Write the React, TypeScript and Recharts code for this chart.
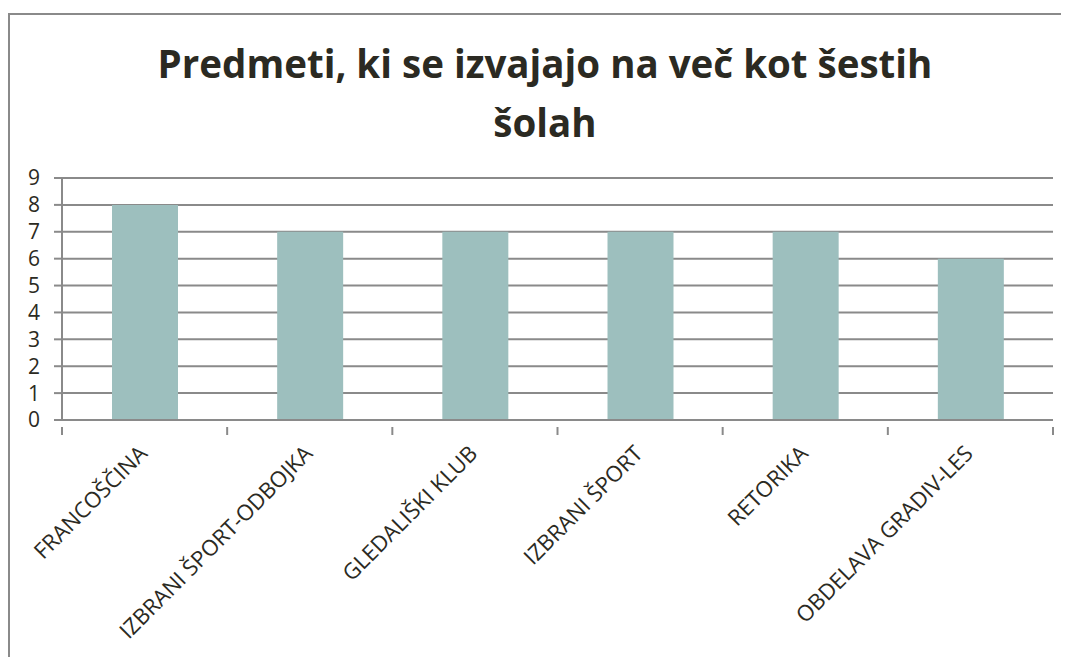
import React from "react";
import { BarChart, Bar, XAxis, YAxis, CartesianGrid } from "recharts";

const categories = [
  "FRANCOŠČINA",
  "IZBRANI ŠPORT-ODBOJKA",
  "GLEDALIŠKI KLUB",
  "IZBRANI ŠPORT",
  "RETORIKA",
  "OBDELAVA GRADIV-LES",
];
const values = [8, 7, 7, 7, 7, 6];
const yTicks = [0, 1, 2, 3, 4, 5, 6, 7, 8, 9];
const titleLines = ["Predmeti, ki se izvajajo na več kot šestih", "šolah"];

const data = categories.map((name, i) => ({ name, value: values[i] }));

const W = 1061;
const H = 644;
const M = { top: 165, right: 16, left: 14, bottom: 0 };
const X_H = H - 407;
const Y_W = 40;
const plotW = W - M.left - Y_W - M.right;
const band = plotW / categories.length;
const textColor = "#2b2a22";
const lineColor = "#8a8a8a";
const font = "'Open Sans', sans-serif";

const XTick = (props: any) => {
  const { x, y, payload, index } = props;
  const left = x - band / 2;
  const right = x + band / 2;
  const ax = x + 4;
  const ay = y + 27;
  return (
    <g>
      <line x1={left} y1={y - 1} x2={left} y2={y + 7} stroke={lineColor} strokeWidth={2} />
      {index === categories.length - 1 && (
        <line x1={right} y1={y - 1} x2={right} y2={y + 7} stroke={lineColor} strokeWidth={2} />
      )}
      <text
        x={ax}
        y={ay}
        textAnchor="end"
        transform={`rotate(-45 ${ax} ${ay})`}
        fontSize={22}
        fill={textColor}
        fontFamily={font}
      >
        {payload.value}
      </text>
    </g>
  );
};

export default function App() {
  return (
    <div style={{ position: "relative", width: 1061, height: 649 }}>
      <div
        style={{
          position: "absolute",
          left: 0,
          top: 5,
          width: W,
          height: H,
          borderLeft: `2px solid ${lineColor}`,
          borderTop: `2px solid ${lineColor}`,
          boxSizing: "border-box",
          background: "#fff",
        }}
      />
      <div style={{ position: "absolute", left: 0, top: 5 }}>
        <BarChart width={W} height={H} data={data} margin={M} barSize={66}>
          <CartesianGrid vertical={false} stroke={lineColor} strokeWidth={2} />
          <XAxis
            dataKey="name"
            interval={0}
            tickLine={false}
            axisLine={{ stroke: lineColor, strokeWidth: 2 }}
            tick={<XTick />}
            height={X_H}
          />
          <YAxis
            width={Y_W}
            domain={[0, 9]}
            ticks={yTicks}
            interval={0}
            tickSize={8}
            tickMargin={14}
            tickLine={{ stroke: lineColor, strokeWidth: 2 }}
            axisLine={{ stroke: lineColor, strokeWidth: 2 }}
            tick={{ fontSize: 21, fill: textColor, fontFamily: font }}
          />
          <Bar dataKey="value" fill="#9dbfbe" isAnimationActive={false} />
        </BarChart>
      </div>
      <div
        style={{
          position: "absolute",
          left: 0,
          top: 5,
          width: W,
          textAlign: "center",
          fontFamily: font,
          fontWeight: 700,
          fontSize: 38.5,
          color: textColor,
          lineHeight: "59px",
          paddingTop: 21,
        }}
      >
        <div style={{ marginLeft: 13 }}>{titleLines[0]}</div>
        <div style={{ marginLeft: 13 }}>{titleLines[1]}</div>
      </div>
    </div>
  );
}
